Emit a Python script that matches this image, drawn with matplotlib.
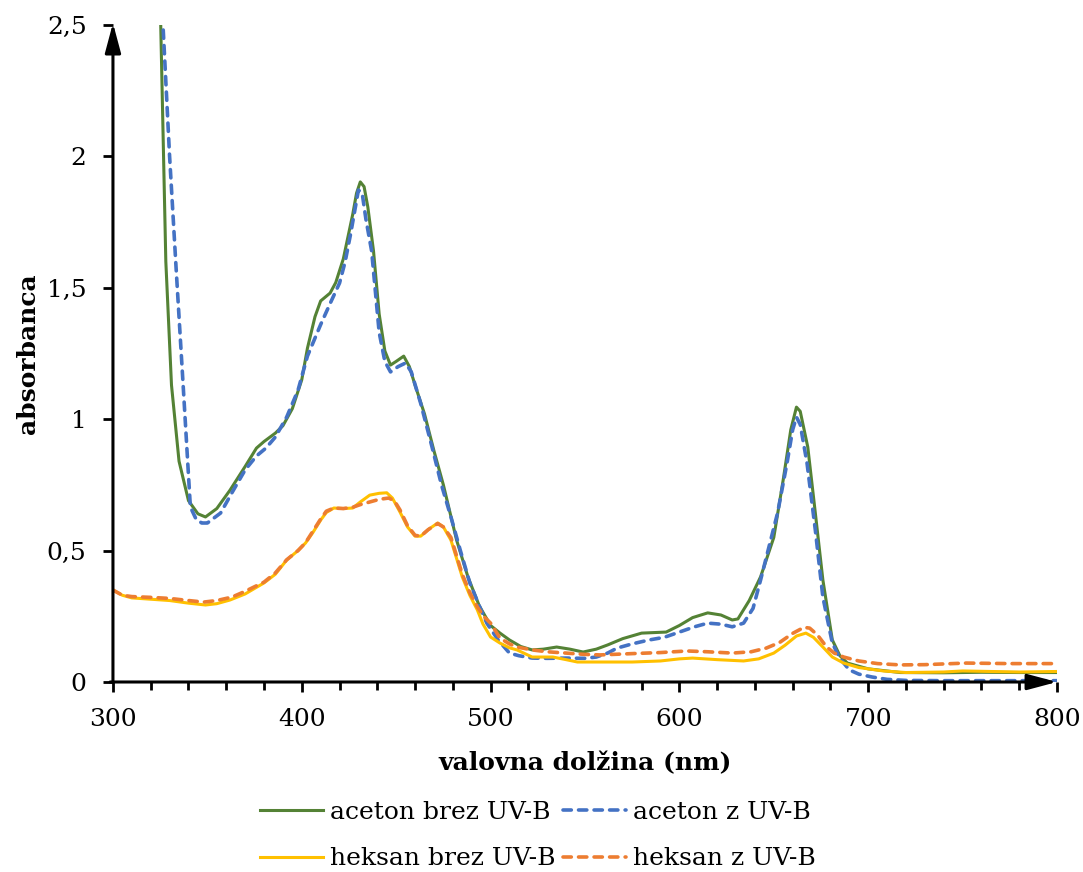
import matplotlib
matplotlib.use("Agg")
from matplotlib import pyplot as plt
from matplotlib.ticker import MultipleLocator, FuncFormatter

# podatki odcitani s slike
wl_ab = [320, 322, 325, 328, 331, 335, 340, 345, 349, 355, 362, 370, 376, 380, 386,
         390, 395, 400, 403, 407, 410, 415, 418, 422, 427, 429, 431, 433, 435, 438, 441, 444,
         447, 450, 454, 457, 460, 465, 470, 475, 482, 488, 494, 500, 505, 510, 516,
         522, 528, 535, 542, 549, 556, 562, 570, 580, 593, 600, 607, 615, 622, 628,
         631, 637, 643, 650, 655, 659, 662, 664, 668, 672, 676, 681, 685, 689, 700,
         717, 740, 760, 780, 800]
aceton_brez = [4.0, 3.3, 2.6, 1.6, 1.13, 0.84, 0.69, 0.64, 0.628, 0.66, 0.73, 0.82, 0.89, 0.915, 0.947,
               0.975, 1.04, 1.15, 1.27, 1.39, 1.45, 1.48, 1.52, 1.61, 1.78, 1.86, 1.903, 1.885, 1.807, 1.64, 1.40, 1.26,
               1.206, 1.22, 1.24, 1.20, 1.13, 1.02, 0.88, 0.75, 0.54, 0.40, 0.29, 0.215, 0.186, 0.16, 0.135,
               0.122, 0.125, 0.133, 0.125, 0.114, 0.125, 0.141, 0.165, 0.186, 0.19, 0.215, 0.245, 0.263, 0.255, 0.236,
               0.24, 0.31, 0.40, 0.55, 0.77, 0.96, 1.046, 1.03, 0.894, 0.643, 0.388, 0.16, 0.10, 0.072, 0.05,
               0.036, 0.035, 0.037, 0.036, 0.036]

wl_az = [320, 326.5, 330, 333.4, 337, 341, 344, 347, 350, 357, 363, 370, 376, 381, 386,
         392, 398, 403, 410, 415, 420, 423, 426, 430, 432, 434, 437, 441, 444, 447,
         451, 455, 458, 463, 469, 474, 479, 484, 489, 494, 498, 504, 510, 515, 522,
         530, 540, 550, 556, 562, 567, 575, 584, 592, 600, 608, 615, 622, 628, 634,
         639, 643, 648, 652, 657, 660, 662, 664, 667.6, 672, 676, 681, 685, 690, 695,
         702, 710, 720, 740, 760, 780, 800]
aceton_z = [3.4, 2.5, 2.0, 1.58, 1.15, 0.666, 0.62, 0.605, 0.605, 0.643, 0.72, 0.807, 0.86, 0.89, 0.932,
            1.008, 1.11, 1.24, 1.36, 1.44, 1.518, 1.60, 1.71, 1.872, 1.86, 1.76, 1.64, 1.33, 1.22, 1.18,
            1.20, 1.214, 1.18, 1.06, 0.894, 0.75, 0.628, 0.50, 0.377, 0.29, 0.224, 0.16, 0.11, 0.10, 0.091,
            0.09, 0.091, 0.09, 0.095, 0.11, 0.129, 0.145, 0.16, 0.17, 0.19, 0.21, 0.224, 0.22, 0.21, 0.224,
            0.28, 0.388, 0.53, 0.643, 0.833, 0.96, 1.008, 0.98, 0.833, 0.578, 0.323, 0.148, 0.09, 0.046, 0.03,
            0.019, 0.01, 0.006, 0.005, 0.005, 0.005, 0.005]

wl_hb = [300, 305, 310, 320, 330, 340, 349, 355, 362, 370, 380, 386, 392, 398, 402,
         406, 410, 413, 417, 422, 427, 431, 436, 441, 445, 448, 452, 456, 460, 463,
         467, 472, 475, 479, 482, 485, 489, 493, 496, 500, 505, 510, 514, 522, 533,
         540, 546, 560, 575, 590, 600, 607, 620, 634, 642, 650, 656, 662, 667, 671,
         676, 681, 687, 695, 708, 720, 740, 750, 765, 780, 800]
heksan_brez = [0.35, 0.33, 0.32, 0.315, 0.31, 0.30, 0.293, 0.298, 0.312, 0.335, 0.377, 0.41, 0.464, 0.50, 0.529,
               0.57, 0.616, 0.645, 0.662, 0.66, 0.662, 0.685, 0.711, 0.718, 0.72, 0.70, 0.647, 0.59, 0.555, 0.555,
               0.58, 0.605, 0.59, 0.54, 0.47, 0.40, 0.33, 0.274, 0.22, 0.171, 0.148, 0.13, 0.122, 0.095, 0.095,
               0.085, 0.076, 0.076, 0.076, 0.08, 0.088, 0.091, 0.085, 0.08, 0.088, 0.11, 0.14, 0.175, 0.186, 0.17,
               0.133, 0.095, 0.072, 0.055, 0.042, 0.036, 0.038, 0.042, 0.04, 0.038, 0.04]

wl_hz = [300, 305, 310, 320, 330, 340, 348, 355, 363, 370, 380, 386, 392, 398, 402,
         406, 410, 413, 417, 422, 427, 431, 436, 441, 446, 449, 452, 456, 460, 463,
         467, 472, 475, 479, 482, 485, 489, 493, 497, 500, 505, 510, 514, 522, 530,
         540, 550, 558, 575, 590, 604, 615, 628, 638, 646, 653, 660, 666, 669, 673,
         678, 682, 687, 695, 705, 717, 730, 752, 775, 800]
heksan_z = [0.35, 0.33, 0.325, 0.322, 0.318, 0.31, 0.304, 0.31, 0.323, 0.345, 0.38, 0.415, 0.465, 0.50, 0.53,
            0.575, 0.62, 0.65, 0.662, 0.66, 0.665, 0.675, 0.685, 0.695, 0.70, 0.69, 0.655, 0.595, 0.558, 0.555,
            0.58, 0.603, 0.59, 0.55, 0.48, 0.41, 0.34, 0.285, 0.245, 0.224, 0.167, 0.145, 0.133, 0.122, 0.115,
            0.11, 0.105, 0.103, 0.108, 0.112, 0.118, 0.115, 0.11, 0.115, 0.129, 0.15, 0.185, 0.208, 0.205, 0.18,
            0.133, 0.11, 0.095, 0.08, 0.07, 0.065, 0.066, 0.072, 0.07, 0.07]

plt.rcParams['font.family'] = ['DejaVu Serif']
fs = 18

fig = plt.figure(figsize=(10.83, 8.72), dpi=100)
ax = fig.add_axes([0.1043, 0.2179, 0.976 - 0.1043, 0.9713 - 0.2179])

l1, = ax.plot(wl_ab, aceton_brez, color='#548235', lw=2.2, label='aceton brez UV-B')
l2, = ax.plot(wl_az, aceton_z, color='#4472C4', lw=2.6, ls=(0, (2.3, 2.0)),
              dash_capstyle='round', label='aceton z UV-B')
l3, = ax.plot(wl_hb, heksan_brez, color='#FFC000', lw=2.2, label='heksan brez UV-B')
l4, = ax.plot(wl_hz, heksan_z, color='#ED7D31', lw=2.6, ls=(0, (2.3, 2.0)),
              dash_capstyle='round', label='heksan z UV-B')

ax.set_xlim(300, 800)
ax.set_ylim(0, 2.5)
ax.xaxis.set_major_locator(MultipleLocator(100))
ax.xaxis.set_minor_locator(MultipleLocator(20))
ax.yaxis.set_major_locator(MultipleLocator(0.5))
ax.yaxis.set_major_formatter(FuncFormatter(lambda v, p: ('%g' % v).replace('.', ',')))

for s in ax.spines.values():
    s.set_visible(False)

# osi s puscicami
arrow = dict(arrowstyle='-|>,head_length=0.9,head_width=0.24', lw=2.2, color='black',
             shrinkA=0, shrinkB=0, mutation_scale=20)
ax.annotate('', xy=(0, 1.003), xytext=(0, 0), xycoords='axes fraction', arrowprops=arrow)
ax.annotate('', xy=(1.0, 0), xytext=(-0.003, 0), xycoords='axes fraction', arrowprops=arrow)

ax.tick_params(axis='both', which='major', direction='out', length=7, width=2, labelsize=fs, pad=12)
ax.tick_params(axis='x', which='minor', direction='out', length=6, width=2)

ax.set_xlabel('valovna dolžina (nm)', fontsize=fs, fontweight='bold', labelpad=14)
ax.set_ylabel('absorbanca', fontsize=fs, fontweight='bold', labelpad=5)

fig.legend([l1, l3, l2, l4], [l1.get_label(), l3.get_label(), l2.get_label(), l4.get_label()],
           ncol=2, loc='center', bbox_to_anchor=(0.497, 0.042), frameon=False, fontsize=fs,
           handlelength=2.5, handletextpad=0.3, columnspacing=0.3, labelspacing=0.95)

fig.savefig('out.png', dpi=100)
